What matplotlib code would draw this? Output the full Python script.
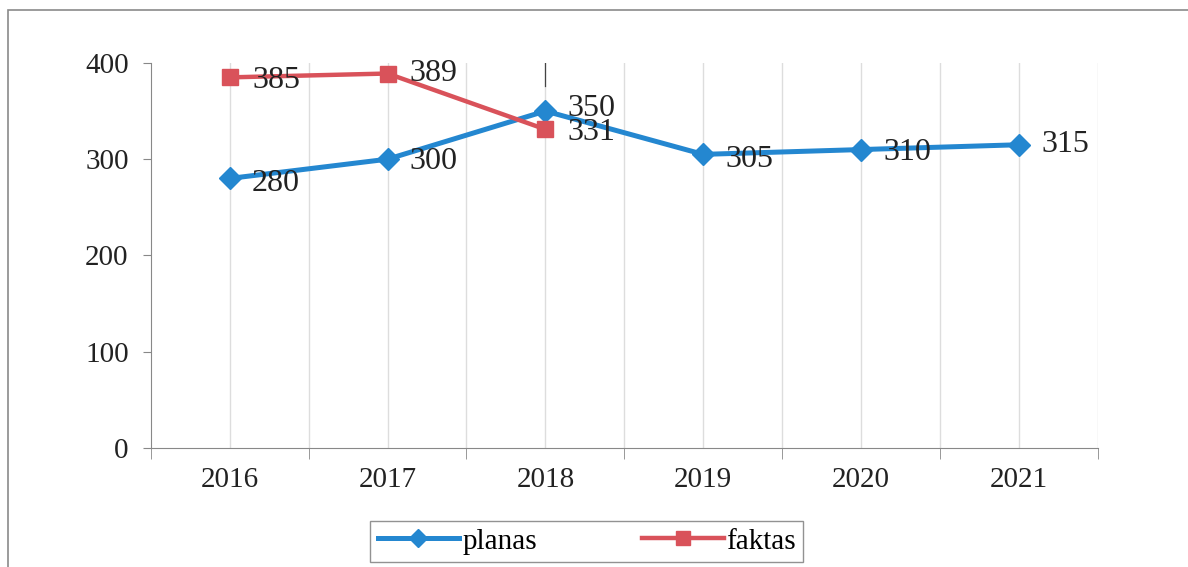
import matplotlib.pyplot as plt
from matplotlib.patches import Rectangle

years = ['2016', '2017', '2018', '2019', '2020', '2021']
planas = [280, 300, 350, 305, 310, 315]
faktas = [385, 389, 331]
y_ticks = [0, 100, 200, 300, 400]

blue = '#2487D0'
red = '#D9525A'

plt.rcParams['font.family'] = ['Liberation Serif', 'DejaVu Serif']

fig = plt.figure(figsize=(11.88, 5.67), dpi=100)
ax = fig.add_axes([0.127, 0.210, 0.797, 0.679])

# outer frame of the scanned chart
fig.patches.append(Rectangle((0.007, -0.01), 1.0, 0.993, transform=fig.transFigure,
                             fill=False, edgecolor='#8a8a8a', linewidth=1.2))

x_plan = list(range(len(planas)))
x_fakt = list(range(len(faktas)))

ax.plot(x_plan, planas, color=blue, lw=3.6, marker='D', ms=11, label='planas', zorder=3)
ax.plot(x_fakt, faktas, color=red, lw=3.2, marker='s', ms=12, label='faktas', zorder=4)

# small vertical nudges so 350 / 331 sit like in the original
plan_dy = [-4, -2, 2, -4, -2, 0]
fakt_dy = [-2, 0, -2]
for x, v, dy in zip(x_plan, planas, plan_dy):
    ax.annotate(str(v), (x, v), xytext=(16, dy), textcoords='offset points',
                va='center', ha='left', fontsize=23, color='#222222', zorder=5)
for x, v, dy in zip(x_fakt, faktas, fakt_dy):
    ax.annotate(str(v), (x, v), xytext=(16, dy), textcoords='offset points',
                va='center', ha='left', fontsize=23, color='#222222', zorder=5)

ax.set_xlim(-0.5, len(years) - 0.5)
ax.set_ylim(0, 400)

# light vertical grid at centres and boundaries
for g in [i * 0.5 - 0.5 for i in range(1, 2 * len(years) + 1)]:
    ax.axvline(g, color='#dddddd', lw=1.0, zorder=1)
ax.axvline(2, ymin=0.94, ymax=1.0, color='#444444', lw=0.9, zorder=2)

ax.set_yticks(y_ticks)
ax.set_yticklabels([str(t) for t in y_ticks], fontsize=21, color='#222222')
ax.set_xticks(x_plan)
ax.set_xticklabels(years, fontsize=21, color='#222222')
ax.tick_params(axis='x', length=0, pad=14)
ax.tick_params(axis='y', length=6, color='#888888', pad=10)
ax.set_xticks([i - 0.5 for i in range(len(years) + 1)], minor=True)
ax.tick_params(axis='x', which='minor', length=8, color='#888888', direction='out')

for s in ['top', 'right']:
    ax.spines[s].set_visible(False)
ax.spines['left'].set_color('#888888')
ax.spines['bottom'].set_color('#888888')

leg = fig.legend(loc='center', bbox_to_anchor=(0.494, 0.045), ncol=2, fontsize=21,
                 frameon=True, fancybox=False, edgecolor='#777777', handlelength=2.8,
                 columnspacing=3.6, borderpad=0.25, borderaxespad=0, handletextpad=0.1,
                 markerscale=0.85)
leg.get_frame().set_linewidth(1.0)

fig.savefig('out.png', dpi=100)
